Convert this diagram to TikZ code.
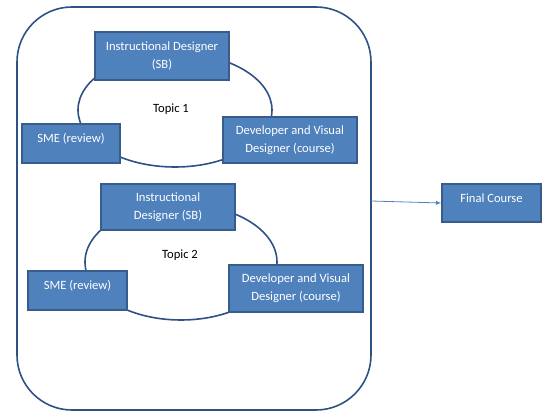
\documentclass[tikz,border=0pt]{standalone}
\usepackage{fontspec}
\setmainfont{Carlito}
\usetikzlibrary{arrows, positioning, shapes.geometric}
\definecolor{boxblue}{HTML}{4F81BD}
\definecolor{lineblue}{HTML}{385D8A}
\definecolor{darkline}{HTML}{2F5286}

\begin{document}
\begin{tikzpicture}[x=1pt, y=-1pt]
		\tikzstyle{Node} = [rectangle, text centered, align=center, draw=lineblue, line width=1.6pt, fill=boxblue, text=white, font=\fontsize{12.6}{18}\selectfont]
		\tikzstyle{cycle} = [ellipse, draw=darkline, line width=1.6pt, inner sep=0pt]
		\tikzstyle{topic} = [font=\fontsize{12.6}{14}\selectfont, text=black]
		\tikzstyle{arrow} = [draw=boxblue, line width=0.8pt, ->, >=latex]
		
		\useasboundingbox (0,0) rectangle (550,417);
		
		\node (frame) [rectangle, rounded corners=55pt, draw=darkline, line width=1.6pt, minimum width=354, minimum height=403] at (194,208.5) {};
		
		% topic 1
		\node (cycle1) [cycle, minimum width=194, minimum height=114] at (175,110) {};
		\node (topic1) [topic] at (171,109) {Topic 1};
		\node (id1) [Node, minimum width=134, minimum height=48] at (162,56) {Instructional Designer\\(SB)};
		\node (sme1) [Node, minimum width=98, minimum height=39] at (71,143.5) {SME (review)\\[-6pt]};
		\node (dev1) [Node, minimum width=134, minimum height=46] at (290,140) {Developer and Visual\\Designer (course)};
		
		% topic 2
		\node (cycle2) [cycle, minimum width=192, minimum height=116] at (181,262) {};
		\node (topic2) [topic] at (180,255) {Topic 2};
		\node (id2) [Node, minimum width=134, minimum height=46] at (168,207) {Instructional\\Designer (SB)};
		\node (sme2) [Node, minimum width=99, minimum height=39] at (77.5,290.5) {SME (review)\\[-6pt]};
		\node (dev2) [Node, minimum width=134, minimum height=47] at (296,288.5) {Developer and Visual\\Designer (course)};
		
		% result
		\node (final) [Node, minimum width=99, minimum height=38] at (491.5,203) {Final Course\\[-8pt]};
		\coordinate (out) at (371,201);
		\draw [arrow] (out) -- (final.west);
\end{tikzpicture}
\end{document}
